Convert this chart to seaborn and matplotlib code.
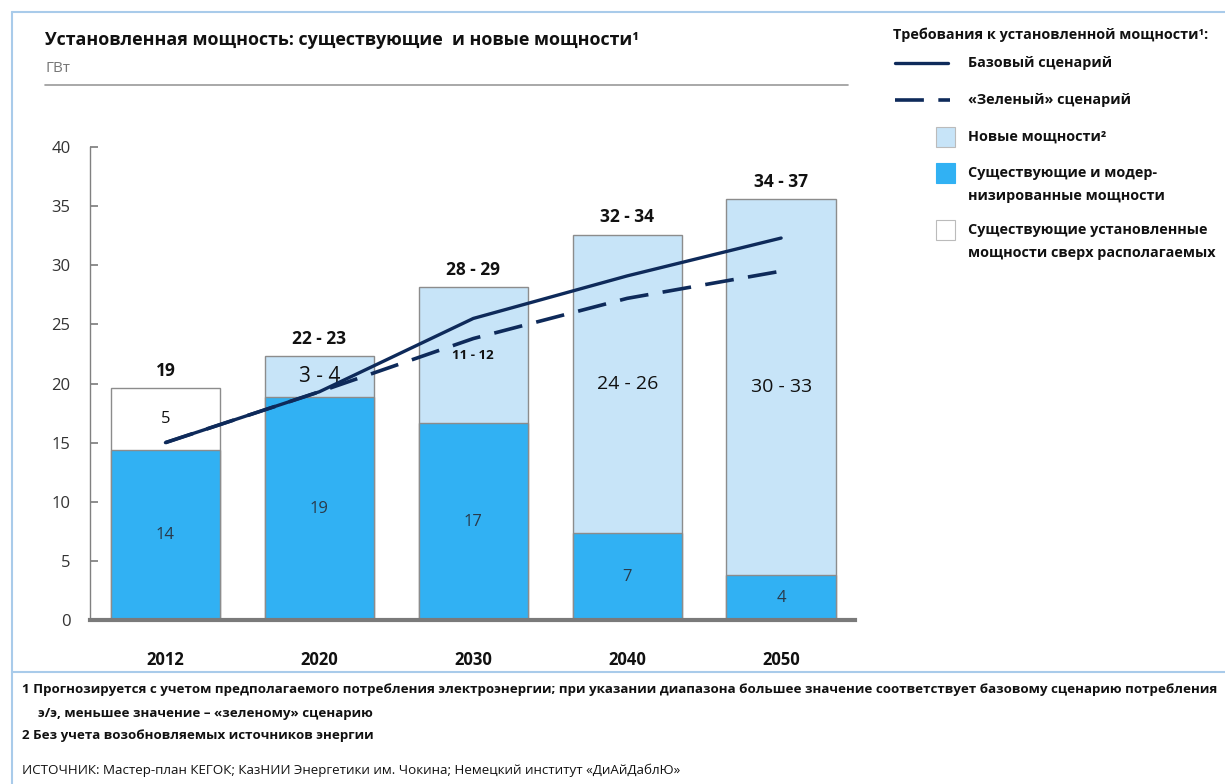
import numpy as np
import pandas as pd
import matplotlib.pyplot as plt
import seaborn as sns
from matplotlib.lines import Line2D
from matplotlib.patches import Rectangle

# values (GW)
years = ["2012", "2020", "2030", "2040", "2050"]
existing = [14.4, 18.85, 16.65, 7.35, 3.8]
totals = [19.6, 22.3, 28.15, 32.6, 35.6]
base_scenario = [15.0, 19.3, 25.5, 29.1, 32.3]
green_scenario = [15.0, 19.3, 23.8, 27.2, 29.5]
total_labels = ["19", "22 - 23", "28 - 29", "32 - 34", "34 - 37"]
existing_labels = ["14", "19", "17", "7", "4"]
upper_labels = ["5", "3 - 4", "11 - 12", "24 - 26", "30 - 33"]

BLUE = "#31B1F3"
LIGHT = "#C7E4F8"
NAVY = "#0E2A5A"
EDGE = "#8C8C8C"
FRAME = "#A9CBEA"

sns.set_theme(style="white")
plt.rcParams["font.family"] = ["Open Sans", "DejaVu Sans"]

W, H = 1225, 784
fig = plt.figure(figsize=(W / 100, H / 100), dpi=100)


def px(x, y):
    return x / W, 1 - y / H


ax = fig.add_axes([90 / W, 1 - 620 / H, (855 - 90) / W, (620 - 147) / H])

df = pd.DataFrame({"year": years, "existing": existing, "total": totals})
upper_colors = {y: (LIGHT if i else "white") for i, y in enumerate(years)}

sns.barplot(data=df, x="year", y="total", hue="year", palette=upper_colors,
            width=0.71, edgecolor=EDGE, linewidth=1, legend=False, ax=ax,
            saturation=1)
sns.barplot(data=df, x="year", y="existing", color=BLUE, width=0.71,
            edgecolor=EDGE, linewidth=1, ax=ax, saturation=1)

pos = np.arange(len(years))
sns.lineplot(x=pos, y=base_scenario, color=NAVY, lw=2.4, ax=ax, zorder=5)
sns.lineplot(x=pos, y=green_scenario, color=NAVY, lw=2.6, ax=ax, zorder=6,
             dashes=False, linestyle=(0, (8, 4)))

upper_sizes = [12, 15, 9.5, 14, 14]
upper_weights = ["normal", "normal", "bold", "normal", "normal"]
for i in range(len(years)):
    ax.annotate(total_labels[i], (i, totals[i]), xytext=(0, 6),
                textcoords="offset points", ha="center", va="bottom",
                fontsize=12.5, fontweight="bold", color="#111111")
    ax.text(i, existing[i] / 2, existing_labels[i], ha="center", va="center",
            fontsize=12, color="#2a3a4a")
    ax.text(i, (existing[i] + totals[i]) / 2, upper_labels[i], ha="center",
            va="center", fontsize=upper_sizes[i], fontweight=upper_weights[i],
            color="#111111", zorder=4)

ax.set_ylim(0, 40)
ax.set_xlim(-0.49, 4.48)
ax.set_yticks(range(0, 41, 5))
ax.set_xlabel("")
ax.set_ylabel("")
for s in ["top", "right"]:
    ax.spines[s].set_visible(False)
ax.spines["left"].set_color("#808080")
ax.spines["left"].set_linewidth(1)
ax.spines["bottom"].set_color("#7a7a7a")
ax.spines["bottom"].set_linewidth(3)
ax.tick_params(axis="y", direction="in", length=6, color="#808080",
               labelsize=12, labelcolor="#333333", pad=14, left=True)
ax.tick_params(axis="x", length=0, pad=22, labelsize=12, labelcolor="#111111")
for t in ax.get_xticklabels():
    t.set_fontweight("bold")

# title block
fig.text(*px(45, 40), "Установленная мощность: существующие  и новые мощности\u00b9",
         fontsize=12.9, fontweight="bold", va="center", ha="left", color="#111111")
fig.text(*px(45, 68), "ГВт", fontsize=11, va="center", ha="left", color="#777777")
fig.add_artist(Line2D([45 / W, 848 / W], [1 - 85 / H] * 2, color="#999999", lw=1.2))

# legend drawn by hand
fs_leg = 10.4
fig.text(*px(893, 35), "Требования к установленной мощности\u00b9:", fontsize=fs_leg,
         fontweight="bold", va="center", ha="left", color="#111111")
fig.add_artist(Line2D([895 / W, 948 / W], [1 - 63 / H] * 2, color=NAVY, lw=2.4))
fig.text(*px(968, 63), "Базовый сценарий", fontsize=fs_leg, fontweight="bold",
         va="center", ha="left", color="#111111")
fig.add_artist(Line2D([895 / W, 950 / W], [1 - 100 / H] * 2, color=NAVY, lw=2.6,
                      linestyle=(0, (8, 4))))
fig.text(*px(968, 100), "«Зеленый» сценарий", fontsize=fs_leg, fontweight="bold",
         va="center", ha="left", color="#111111")
legend_boxes = [
    (127, LIGHT, ["Новые мощности\u00b2"]),
    (163, BLUE, ["Существующие и модер-", "низированные мощности"]),
    (220, "white", ["Существующие установленные", "мощности сверх располагаемых"]),
]
for top, color, lines in legend_boxes:
    fig.add_artist(Rectangle(px(936, top + 20), 19 / W, 20 / H, facecolor=color,
                             edgecolor="#bbbbbb" if color != BLUE else BLUE, lw=0.8))
    for k, line in enumerate(lines):
        fig.text(*px(968, top + 10 + k * 23), line, fontsize=fs_leg, fontweight="bold",
                 va="center", ha="left", color="#111111")

# footnotes and source
fs_note = 9.6
fig.text(*px(22, 690), "1 Прогнозируется с учетом предполагаемого потребления электроэнергии; при указании диапазона большее значение соответствует базовому сценарию потребления",
         fontsize=fs_note, fontweight="bold", va="center", ha="left", color="#111111")
fig.text(*px(38, 713), "э/э, меньшее значение – «зеленому» сценарию",
         fontsize=fs_note, fontweight="bold", va="center", ha="left", color="#111111")
fig.text(*px(22, 735), "2 Без учета возобновляемых источников энергии",
         fontsize=fs_note, fontweight="bold", va="center", ha="left", color="#111111")
fig.text(*px(22, 770), "ИСТОЧНИК: Мастер-план КЕГОК; КазНИИ Энергетики им. Чокина; Немецкий институт «ДиАйДаблЮ»",
         fontsize=9.6, va="center", ha="left", color="#111111")

# light blue frame
fig.add_artist(Line2D([12 / W, 1], [1 - 12 / H] * 2, color=FRAME, lw=1.5))
fig.add_artist(Line2D([12 / W, 12 / W], [0, 1 - 12 / H], color=FRAME, lw=1.5))
fig.add_artist(Line2D([12 / W, 1], [1 - 672 / H] * 2, color=FRAME, lw=1.5))

fig.savefig("out.png", dpi=100)
